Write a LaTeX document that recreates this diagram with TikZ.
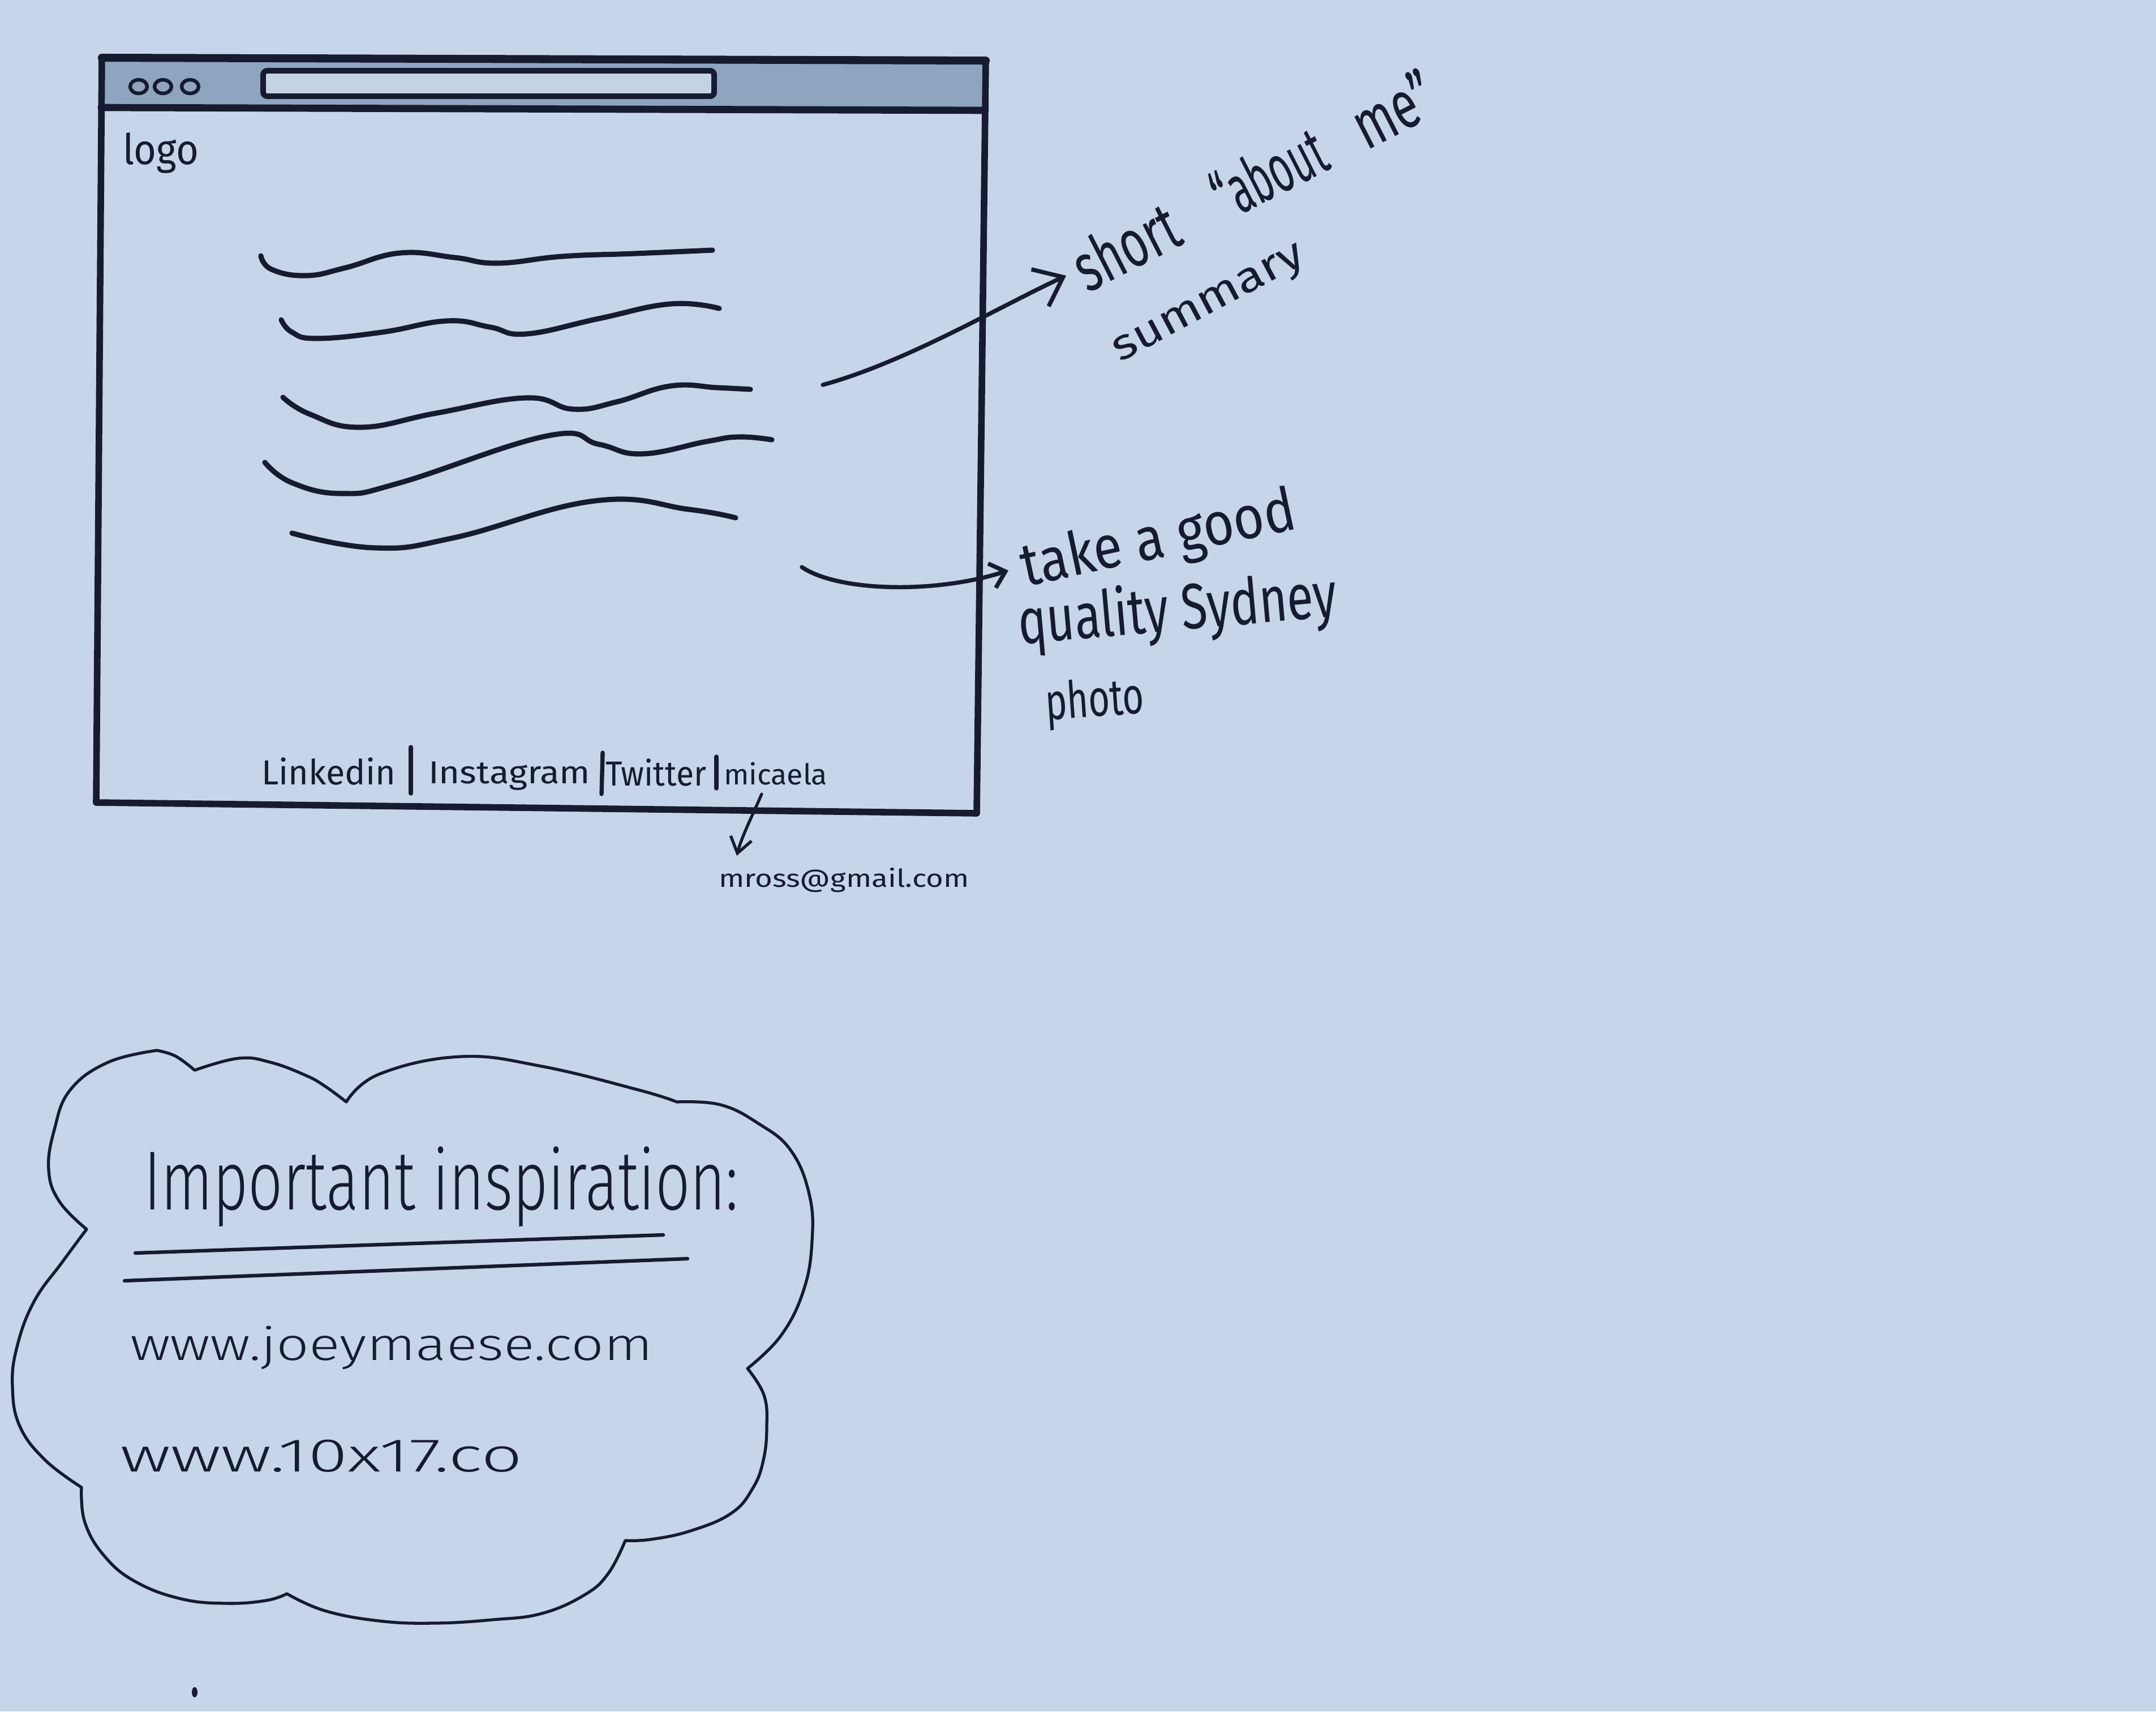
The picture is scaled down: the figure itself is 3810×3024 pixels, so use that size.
\documentclass[tikz,border=0pt]{standalone}
\usepackage{fontspec}
\usepackage{graphicx}
\newfontfamily\hand{Fira Sans}
\newfontfamily\handl{Fira Sans Light}
\usetikzlibrary{arrows.meta}

\definecolor{paper}{HTML}{C6D5EA}
\definecolor{ink}{HTML}{161B30}
\definecolor{bar}{HTML}{8FA4BE}
\definecolor{field}{HTML}{C4D2E6}

% handwritten-looking text boxed to a given width and ascender / x-height
\newcommand\hw[3]{\resizebox{#1}{#2}{\hand\rule{0pt}{\fontcharht\font`l}\smash{#3}}}
\newcommand\hx[3]{\resizebox{#1}{#2}{\hand\rule{0pt}{\fontcharht\font`x}\smash{#3}}}
\newcommand\hwl[3]{\resizebox{#1}{#2}{\handl\rule{0pt}{\fontcharht\font`l}\smash{#3}}}
\newcommand\hxl[3]{\resizebox{#1}{#2}{\handl\rule{0pt}{\fontcharht\font`x}\smash{#3}}}

\tikzset{
  frame/.style={draw=ink, line width=3.3pt, line join=round, line cap=round},
  wave/.style={draw=ink, line width=2.6pt, line cap=round},
  pen/.style={draw=ink, line width=2.1pt, line cap=round, line join=round},
  fine/.style={draw=ink, line width=1.5pt, line cap=round, line join=round},
  txt/.style={inner sep=0pt, outer sep=0pt, text=ink, anchor=base west},
}

\begin{document}
\begin{tikzpicture}[x=0.01cm, y=-0.01cm]
  \fill[paper] (0,0) rectangle (3810,3024);
  \useasboundingbox (0,0) rectangle (3810,3024);

  % ---------- browser window ----------
  \coordinate (wTL) at (180,102);
  \coordinate (wTR) at (1742,107);
  \coordinate (wBR) at (1726,1437);
  \coordinate (wBL) at (170,1418);
  \coordinate (bL) at (179,190);
  \coordinate (bR) at (1741,195);
  \fill[bar] (wTL) -- (wTR) -- (bR) -- (bL) -- cycle;
  \draw[frame] (wTL) -- (wTR) -- (wBR) -- (wBL) -- cycle;
  \draw[frame, line width=4pt] (wTL) -- (wTR);
  \draw[frame, line width=3.6pt] (bL) -- (bR);
  \draw[frame, line width=2.8pt, fill=field, rounded corners=2pt] (465,125) rectangle (1262,170);
  \foreach \cx in {245,288,336}
    \draw[fine, line width=1.8pt] (\cx,153) ellipse [x radius=15, y radius=12];

  \node[txt] (logo) at (217,290) {\hw{1.34cm}{0.56cm}{logo}};

  % text placeholder strokes
  \draw[wave] plot[smooth, tension=0.75] coordinates {(461,452) (480,476) (541,487) (611,473) (707,447) (803,455) (879,465) (994,453) (1122,448) (1259,442)};
  \draw[wave] plot[smooth, tension=0.75] coordinates {(497,565) (516,587) (560,598) (675,587) (790,567) (866,578) (930,590) (1058,563) (1185,537) (1271,545)};
  \draw[wave] plot[smooth, tension=0.75] coordinates {(500,702) (548,732) (637,755) (771,730) (930,703) (1013,723) (1090,710) (1185,682) (1268,685) (1326,688)};
  \draw[wave] plot[smooth, tension=0.75] coordinates {(468,817) (516,853) (605,872) (707,853) (968,770) (1058,785) (1134,802) (1249,780) (1306,772) (1364,777)};
  \draw[wave] plot[smooth, tension=0.75] coordinates {(516,942) (662,968) (803,950) (1051,885) (1217,900) (1300,915)};

  % footer links
  \node[txt] (lin) at (462,1386) {\hw{2.37cm}{0.46cm}{Linkedin}};
  \node[txt] (ins) at (757,1384) {\hw{2.86cm}{0.42cm}{Instagram}};
  \node[txt] (twi) at (1070,1388) {\hw{1.78cm}{0.46cm}{Twitter}};
  \node[txt] (mic) at (1279,1386) {\hw{1.83cm}{0.38cm}{micaela}};
  \draw[pen] (726,1320) -- (726,1402);
  \draw[pen] (1065,1330) -- (1063,1403);
  \draw[pen] (1266,1337) -- (1266,1393);

  % email note
  \node[txt] (mail) at (1270,1567) {\hx{4.42cm}{0.23cm}{mross@gmail.com}};
  \coordinate (m1) at (1346,1403);
  \coordinate (m2) at (1302,1512);
  \draw[fine, -{Straight Barb[length=0.27cm, width=0.38cm]}] (m1) .. controls (1330,1440) and (1310,1480) .. (m2);

  % "about me" note
  \node[txt, rotate=27] (short) at (1922,518) {\hw{1.95cm}{0.9cm}{short}};
  \node[txt, rotate=27] (about) at (2168,392) {\hw{2.1cm}{0.9cm}{“about}};
  \node[txt, rotate=27] (me) at (2415,266) {\hw{1.5cm}{0.9cm}{me”}};
  \node[txt, rotate=28] (summ) at (1979,640) {\hx{3.75cm}{0.40cm}{summary}};
  \coordinate (a1) at (1454,680);
  \coordinate (a2) at (1884,487);
  \draw[pen, -{Straight Barb[length=0.45cm, width=0.72cm]}] (a1) .. controls (1600,640) and (1760,545) .. (a2);

  % photo note
  \node[txt, rotate=12] (take) at (1812,1036) {\hw{4.93cm}{0.80cm}{take a good}};
  \node[txt, rotate=5] (qual) at (1802,1138) {\hw{5.65cm}{0.85cm}{quality Sydney}};
  \node[txt, rotate=4] (photo) at (1849,1272) {\hw{1.75cm}{0.68cm}{photo}};
  \coordinate (p1) at (1417,1002);
  \coordinate (p2) at (1782,1008);
  \draw[pen, -{Straight Barb[length=0.25cm, width=0.45cm]}] (p1) .. controls (1480,1045) and (1650,1050) .. (p2);

  % ---------- inspiration cloud ----------
  \draw[fine]
    plot[smooth, tension=0.7] coordinates {(277,1856) (310,1866) (344,1891)}
    -- plot[smooth, tension=0.7] coordinates {(344,1891) (421,1870) (478,1877) (540,1900) (574,1919) (612,1947)}
    -- plot[smooth, tension=0.7] coordinates {(612,1947) (670,1898) (813,1867) (957,1884) (1129,1926) (1196,1947)}
    -- plot[smooth, tension=0.7] coordinates {(1196,1947) (1273,1952) (1340,1985) (1397,2032) (1430,2110) (1435,2193) (1420,2280) (1380,2360) (1321,2418)}
    -- plot[smooth, tension=0.7] coordinates {(1321,2418) (1350,2465) (1355,2520) (1349,2580) (1330,2630) (1292,2674) (1220,2705) (1150,2720) (1105,2722)}
    -- plot[smooth, tension=0.7] coordinates {(1105,2722) (1075,2780) (1033,2818) (957,2851) (870,2862) (766,2868) (670,2864) (574,2846) (507,2816)}
    -- plot[smooth, tension=0.7] coordinates {(507,2816) (470,2828) (400,2833) (320,2825) (240,2795) (185,2750) (150,2690) (144,2628)}
    -- plot[smooth, tension=0.7] coordinates {(144,2628) (80,2580) (35,2520) (22,2450) (30,2380) (60,2300) (110,2230) (153,2172)}
    -- plot[smooth, tension=0.7] coordinates {(153,2172) (105,2123) (86,2067) (96,1996) (124,1926) (191,1877) (277,1856)};

  \node[txt] (insp) at (254,2137) {\hwl{10.5cm}{1.1cm}{Important inspiration:}};
  \draw[fine, line width=1.8pt] (239,2214) -- (1172,2182);
  \draw[fine, line width=1.8pt] (220,2263) -- (1215,2224);
  \node[txt] (joey) at (230,2403) {\hxl{9.23cm}{0.42cm}{www.joeymaese.com}};
  \node[txt] (tenx) at (212,2600) {\hwl{7.11cm}{0.62cm}{www.10x17.co}};

  \fill[ink] (344,2990) ellipse [x radius=5, y radius=9];
\end{tikzpicture}
\end{document}
